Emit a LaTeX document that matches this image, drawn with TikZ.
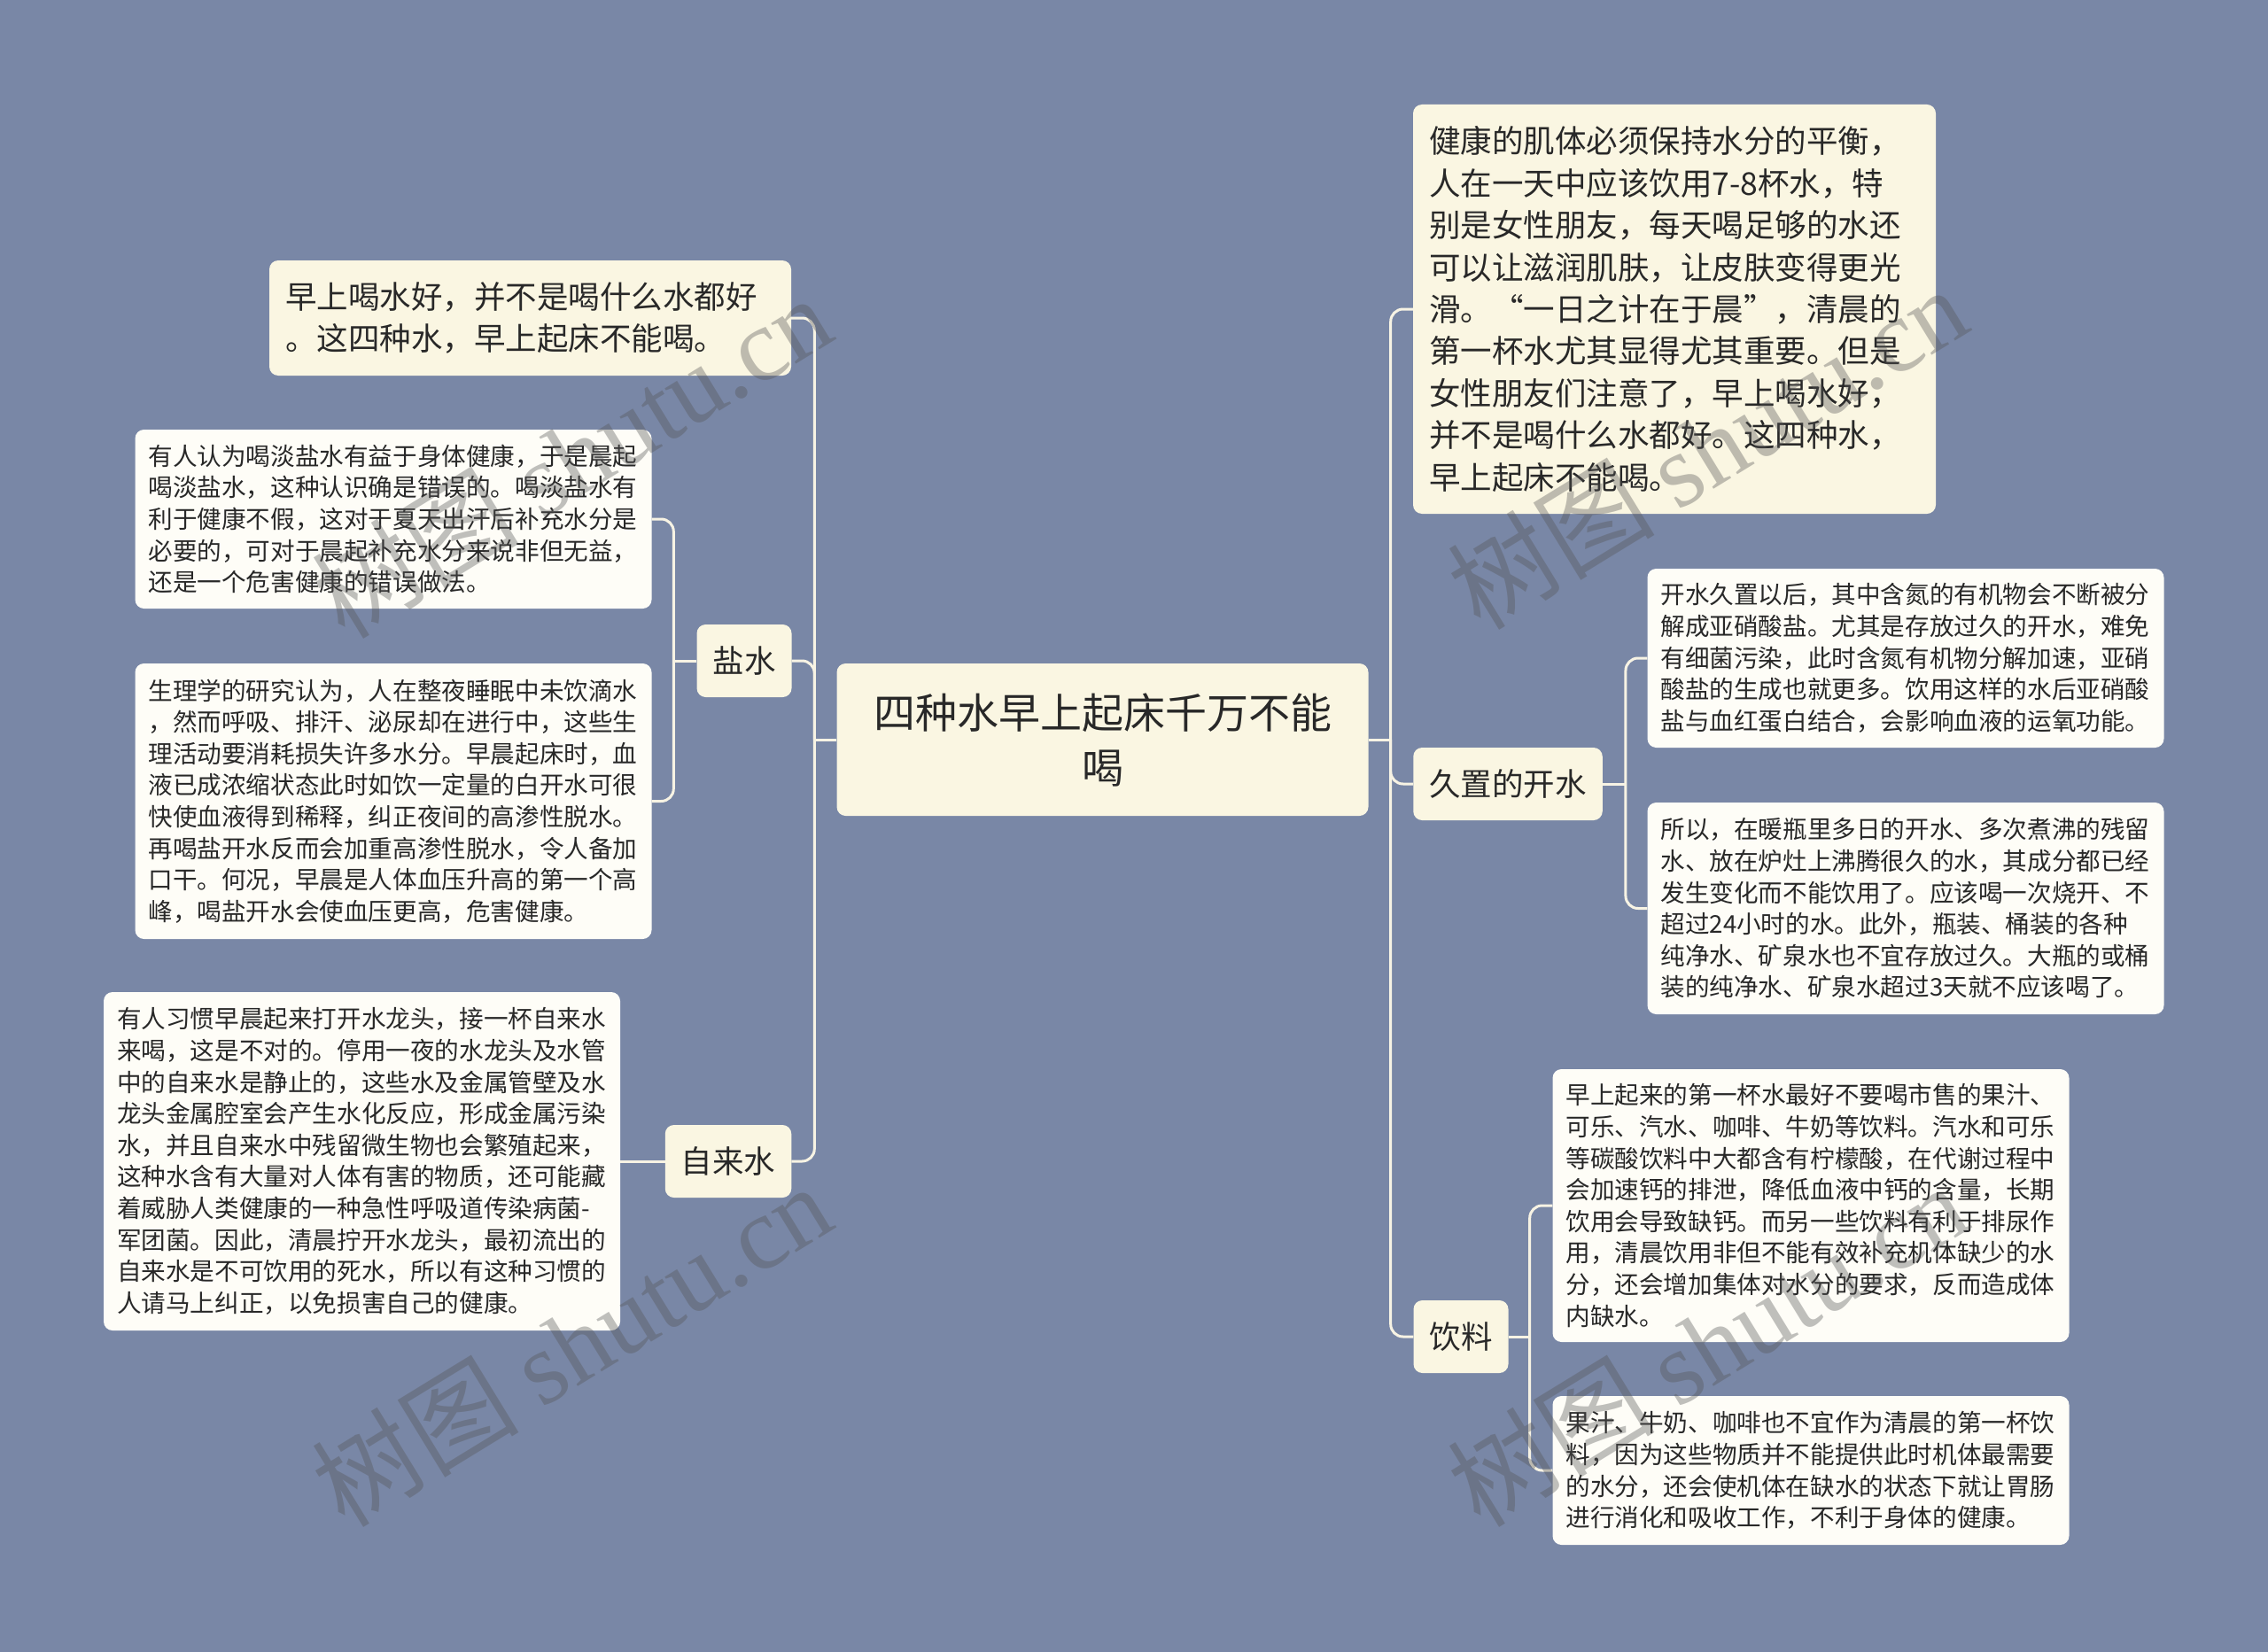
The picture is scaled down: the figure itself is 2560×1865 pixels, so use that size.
\documentclass[tikz,border=0pt]{standalone}
\usepackage{fontspec}
\setmainfont{Noto Sans CJK SC}
\newfontfamily\wmlatin{Liberation Serif}
\usetikzlibrary{calc}
\definecolor{bgc}{RGB}{121,135,166}
\definecolor{lonec}{RGB}{250,246,226}
\definecolor{leafc}{RGB}{254,253,247}
\definecolor{linec}{RGB}{247,243,228}
\definecolor{txtc}{RGB}{40,40,40}
\definecolor{wmc}{RGB}{85,85,85}
\newcommand{\myopq}{\makebox[1em][r]{“}}
\newcommand{\myclq}{\makebox[1em][l]{”}}
\begin{document}
\begin{tikzpicture}[x=1pt,y=-1pt,
  rootbox/.style={fill=lonec, rounded corners=10pt, text width=518pt, align=center, inner xsep=41pt, minimum height=172pt, font=\fontsize{47pt}{62pt}\selectfont, text=txtc},
  lvlbox/.style={fill=lonec, rounded corners=10pt, inner xsep=18pt, minimum height=82pt, font=\fontsize{35.5pt}{47.4pt}\selectfont, text=txtc},
  bigbox/.style={fill=lonec, rounded corners=10pt, inner xsep=18pt, align=left, font=\fontsize{35.5pt}{47.4pt}\selectfont, text=txtc},
  leafbox/.style={fill=leafc, rounded corners=10pt, inner xsep=15pt, text width=553pt, align=left, font=\fontsize{27.6pt}{35.6pt}\selectfont, text=txtc},
  conn/.style={draw=linec, line width=3pt, rounded corners=14pt},
  wm/.style={text=wmc, text opacity=0.37, font=\fontsize{117pt}{120pt}\selectfont, rotate=31.5}]
\fill[bgc] (0,0) rectangle (2560,1865);
\useasboundingbox (0,0) rectangle (2560,1865);

% root
\node[rootbox] (root) at (1244.5,835) {四种水早上起床千万不能\\喝};

% left side
\node[bigbox, text width=553pt, minimum height=130pt] (tl) at (598.5,359) {早上喝水好，并不是喝什么水都好\\。这四种水，早上起床不能喝。};
\node[lvlbox] (ys) at (840,746) {盐水};
\node[lvlbox] (zl) at (822,1311) {自来水};

\node[leafbox, minimum height=202pt] (s1) at (444,586) {有人认为喝淡盐水有益于身体健康，于是晨起\\
喝淡盐水，这种认识确是错误的。喝淡盐水有\\
利于健康不假，这对于夏天出汗后补充水分是\\
必要的，可对于晨起补充水分来说非但无益，\\
还是一个危害健康的错误做法。};
\node[leafbox, minimum height=311pt] (s2) at (444,904.5) {生理学的研究认为，人在整夜睡眠中未饮滴水\\
，然而呼吸、排汗、泌尿却在进行中，这些生\\
理活动要消耗损失许多水分。早晨起床时，血\\
液已成浓缩状态此时如饮一定量的白开水可很\\
快使血液得到稀释，纠正夜间的高渗性脱水。\\
再喝盐开水反而会加重高渗性脱水，令人备加\\
口干。何况，早晨是人体血压升高的第一个高\\
峰，喝盐开水会使血压更高，危害健康。};
\node[leafbox, minimum height=382pt] (tap) at (408.5,1311) {有人习惯早晨起来打开水龙头，接一杯自来水\\
来喝，这是不对的。停用一夜的水龙头及水管\\
中的自来水是静止的，这些水及金属管壁及水\\
龙头金属腔室会产生水化反应，形成金属污染\\
水，并且自来水中残留微生物也会繁殖起来，\\
这种水含有大量对人体有害的物质，还可能藏\\
着威胁人类健康的一种急性呼吸道传染病菌-\\
军团菌。因此，清晨拧开水龙头，最初流出的\\
自来水是不可饮用的死水，所以有这种习惯的\\
人请马上纠正，以免损害自己的健康。};

% right side
\node[bigbox, text width=554pt, minimum height=462pt] (tr) at (1890,349) {健康的肌体必须保持水分的平衡，\\
人在一天中应该饮用7-8杯水，特\\
别是女性朋友，每天喝足够的水还\\
可以让滋润肌肤，让皮肤变得更光\\
滑。\myopq 一日之计在于晨\myclq ，清晨的\\
第一杯水尤其显得尤其重要。但是\\
女性朋友们注意了，早上喝水好，\\
并不是喝什么水都好。这四种水，\\
早上起床不能喝。};
\node[lvlbox] (jz) at (1702,885) {久置的开水};
\node[lvlbox] (yl) at (1649,1509) {饮料};

\node[leafbox, minimum height=202pt] (k1) at (2151,743) {开水久置以后，其中含氮的有机物会不断被分\\
解成亚硝酸盐。尤其是存放过久的开水，难免\\
有细菌污染，此时含氮有机物分解加速，亚硝\\
酸盐的生成也就更多。饮用这样的水后亚硝酸\\
盐与血红蛋白结合，会影响血液的运氧功能。};
\node[leafbox, minimum height=239pt] (k2) at (2151,1025.5) {所以，在暖瓶里多日的开水、多次煮沸的残留\\
水、放在炉灶上沸腾很久的水，其成分都已经\\
发生变化而不能饮用了。应该喝一次烧开、不\\
超过24小时的水。此外，瓶装、桶装的各种\\
纯净水、矿泉水也不宜存放过久。大瓶的或桶\\
装的纯净水、矿泉水超过3天就不应该喝了。};
\node[leafbox, minimum height=308pt] (d1) at (2044,1361) {早上起来的第一杯水最好不要喝市售的果汁、\\
可乐、汽水、咖啡、牛奶等饮料。汽水和可乐\\
等碳酸饮料中大都含有柠檬酸，在代谢过程中\\
会加速钙的排泄，降低血液中钙的含量，长期\\
饮用会导致缺钙。而另一些饮料有利于排尿作\\
用，清晨饮用非但不能有效补充机体缺少的水\\
分，还会增加集体对水分的要求，反而造成体\\
内缺水。};
\node[leafbox, minimum height=168pt] (d2) at (2044,1660) {果汁、牛奶、咖啡也不宜作为清晨的第一杯饮\\
料，因为这些物质并不能提供此时机体最需要\\
的水分，还会使机体在缺水的状态下就让胃肠\\
进行消化和吸收工作，不利于身体的健康。};

% connectors left
\draw[conn] (root.west) -- ++(-25,0) coordinate (lj);
\draw[conn] (tl.east) -| (lj);
\draw[conn] (ys.east) -| (lj);
\draw[conn] (zl.east) -| (lj);
\draw[conn] (ys.west) -- ++(-26,0) coordinate (sj);
\draw[conn] (s1.east) -| (sj);
\draw[conn] (s2.east) -| (sj);
\draw[conn] (zl.west) -- (tap.east);

% connectors right
\draw[conn] (root.east) -- ++(25,0) coordinate (rj);
\draw[conn] (tr.west) -| (rj);
\draw[conn] (jz.west) -| (rj);
\draw[conn] (yl.west) -| (rj);
\draw[conn] (jz.east) -- ++(26,0) coordinate (jj);
\draw[conn] (k1.west) -| (jj);
\draw[conn] (k2.west) -| (jj);
\draw[conn] (yl.east) -- ++(24,0) coordinate (yj);
\draw[conn] (d1.west) -| (yj);
\draw[conn] (d2.west) -| (yj);

% watermarks
\node[wm] (w1) at (645,515) {树图 {\wmlatin shutu.cn}};
\node[wm] (w2) at (645,1518) {树图 {\wmlatin shutu.cn}};
\node[wm] (w3) at (1927,505) {树图 {\wmlatin shutu.cn}};
\node[wm] (w4) at (1927,1518) {树图 {\wmlatin shutu.cn}};
\end{tikzpicture}
\end{document}
